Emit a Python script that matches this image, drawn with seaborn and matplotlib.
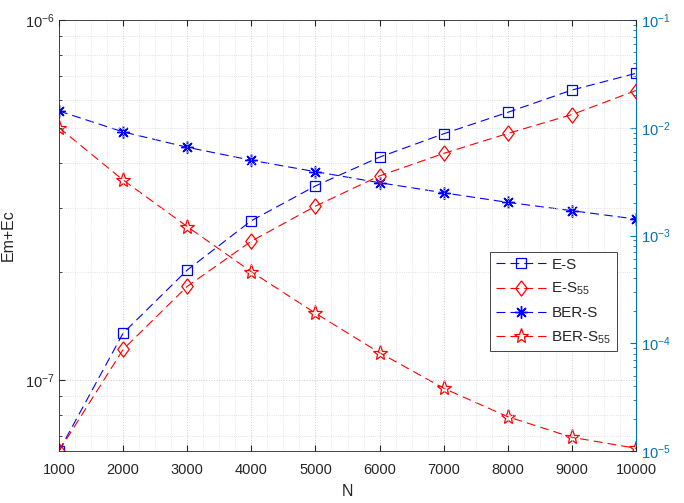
import numpy as np
import pandas as pd
import seaborn as sns
import matplotlib
matplotlib.use("Agg")
from matplotlib import pyplot as plt
from matplotlib.ticker import LogLocator, MultipleLocator, NullFormatter

# data
N = [1000, 2000, 3000, 4000, 5000, 6000, 7000, 8000, 9000, 10000]
es = [6.35e-8, 1.349e-7, 2.02e-7, 2.77e-7, 3.46e-7, 4.16e-7, 4.83e-7, 5.54e-7, 6.39e-7, 7.11e-7]
es55 = [6.35e-8, 1.216e-7, 1.82e-7, 2.43e-7, 3.04e-7, 3.69e-7, 4.26e-7, 4.84e-7, 5.46e-7, 6.37e-7]
ber_s = [1.43e-2, 9.15e-3, 6.59e-3, 4.99e-3, 3.91e-3, 3.09e-3, 2.49e-3, 2.03e-3, 1.70e-3, 1.42e-3]
ber_s55 = [1.0e-2, 3.27e-3, 1.21e-3, 4.61e-4, 1.9e-4, 8.17e-5, 3.82e-5, 2.08e-5, 1.34e-5, 1.06e-5]

df = pd.DataFrame({"N": N, "es": es, "es55": es55, "ber_s": ber_s, "ber_s55": ber_s55})

sns.set_style("white")
plt.rcParams["font.family"] = ["Liberation Sans", "DejaVu Sans"]
plt.rcParams["mathtext.fontset"] = "custom"
plt.rcParams["mathtext.rm"] = "Liberation Sans"
plt.rcParams["mathtext.it"] = "Liberation Sans"

dark = (0.15, 0.15, 0.15)
rblue = (0.0, 0.447, 0.741)
diamond = [(0, 1), (0.75, 0), (0, -1), (-0.75, 0), (0, 1)]

fig = plt.figure(figsize=(6.84, 5.03), dpi=100)
ax = fig.add_axes([59 / 684, 1 - 451 / 503, 577 / 684, 431 / 503])
ax2 = ax.twinx()

sns.lineplot(data=df, x="N", y="es", ax=ax, color="blue", linestyle="--", lw=0.8,
             marker="s", markersize=7, markerfacecolor="none",
             markeredgecolor="blue", markeredgewidth=0.9, label="E-S", legend=False)
sns.lineplot(data=df, x="N", y="es55", ax=ax, color="red", linestyle="--", lw=0.8,
             marker=diamond, markersize=11, markerfacecolor="none",
             markeredgecolor="red", markeredgewidth=0.9, label="E-S$_{55}$", legend=False)
sns.lineplot(data=df, x="N", y="ber_s", ax=ax2, color="blue", linestyle="--", lw=0.8,
             marker=(8, 2, 0), markersize=9, markeredgecolor="blue",
             markeredgewidth=1.0, label="BER-S", legend=False)
sns.lineplot(data=df, x="N", y="ber_s55", ax=ax2, color="red", linestyle="--", lw=0.8,
             marker="*", markersize=11, markerfacecolor="none",
             markeredgecolor="red", markeredgewidth=0.9, label="BER-S$_{55}$", legend=False)

for line in ax.lines + ax2.lines:
    line.set_dashes([8, 4.5])

ax.set_yscale("log")
ax2.set_yscale("log")
ax.set_xlim(1000, 10000)
ax.set_ylim(6.35e-8, 1e-6)
ax2.set_ylim(1e-5, 1e-1)

ax.xaxis.set_major_locator(MultipleLocator(1000))
ax.xaxis.set_minor_locator(MultipleLocator(250))
ax.yaxis.set_major_locator(LogLocator(base=10))
ax.yaxis.set_minor_locator(LogLocator(base=10, subs=np.arange(2, 10)))
ax.yaxis.set_minor_formatter(NullFormatter())
ax2.yaxis.set_major_locator(LogLocator(base=10))
ax2.yaxis.set_minor_locator(LogLocator(base=10, subs=np.arange(2, 10)))
ax2.yaxis.set_minor_formatter(NullFormatter())

ax.grid(True, which="major", linestyle=":", color="0.8", lw=0.7)
ax.grid(True, which="minor", linestyle=":", color="0.85", lw=0.6)
ax.xaxis.grid(True, which="minor", linestyle=":", color="0.88", lw=0.6)

ax.tick_params(axis="both", which="both", direction="in", colors=dark, labelsize=10.5,
               top=True, bottom=True, left=True, right=False)
ax.tick_params(which="major", length=4)
ax.tick_params(which="minor", length=2)
ax.tick_params(axis="x", which="minor", length=0)
ax.tick_params(axis="x", which="major", pad=9)
ax2.tick_params(axis="y", which="both", direction="in", colors=rblue, labelsize=10.5)
ax2.tick_params(which="major", length=4)
ax2.tick_params(which="minor", length=2)

for s in ["top", "bottom", "left"]:
    ax.spines[s].set_color(dark)
    ax.spines[s].set_linewidth(0.6)
ax.spines["right"].set_visible(False)
for s in ["top", "bottom", "left"]:
    ax2.spines[s].set_visible(False)
ax2.spines["right"].set_color(rblue)
ax2.spines["right"].set_linewidth(0.8)

ax.set_xlabel("N", fontsize=11.5, color=dark, labelpad=5)
ax.set_ylabel("Em+Ec", fontsize=11.5, color=dark)
ax.yaxis.set_label_coords(-0.0745, 0.5)
ax2.set_ylabel("")

handles = ax.lines + ax2.lines
labels = ["E-S", "E-S$_{55}$", "BER-S", "BER-S$_{55}$"]
leg = ax.legend(handles, labels, loc="upper right", bbox_to_anchor=(0.972, 0.468),
                fontsize=11, frameon=True, fancybox=False, edgecolor=dark,
                framealpha=1, handlelength=3.3, borderpad=0.35, labelspacing=0.6,
                handletextpad=0.35, borderaxespad=0.2)
leg.get_frame().set_linewidth(0.6)
leg.set_zorder(10)
ax.set_zorder(ax2.get_zorder() + 1)
ax.patch.set_visible(False)

fig.savefig("out.png", dpi=100)
